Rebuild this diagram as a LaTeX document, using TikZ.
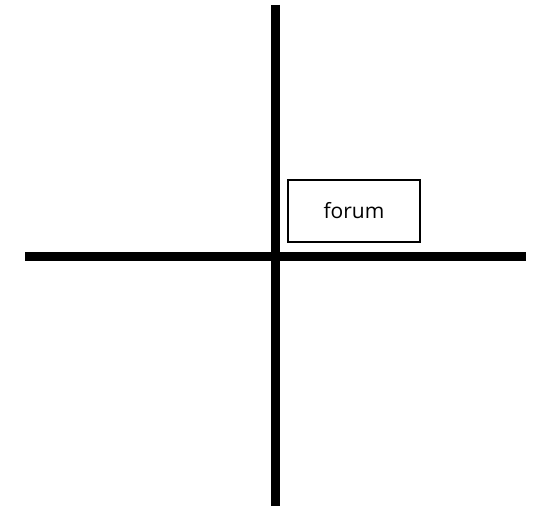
\documentclass[tikz,border=0pt]{standalone}
\usepackage{fontspec}
\setmainfont{Open Sans}
\tikzset{
  axisline/.style={black, line width=9pt},
  forumbox/.style={draw=black, line width=1.2pt, minimum width=132pt, minimum height=62pt, inner sep=0pt, font=\fontsize{21}{24}\selectfont},
}
\begin{document}
\begin{tikzpicture}[x=1pt, y=-1pt]
  \useasboundingbox (0,0) rectangle (541,510);
  % --- end points of the two axes ---
  \coordinate (top) at (275,5);
  \coordinate (bottom) at (275,506);
  \coordinate (left) at (25,257);
  \coordinate (right) at (526,257);

  % --- cross ---
  \draw[axisline] (top) -- (bottom);
  \draw[axisline] (left) -- (right);

  % --- label in the upper right quadrant ---
  \node[forumbox] (forum) at (354,211) {forum};
\end{tikzpicture}
\end{document}
